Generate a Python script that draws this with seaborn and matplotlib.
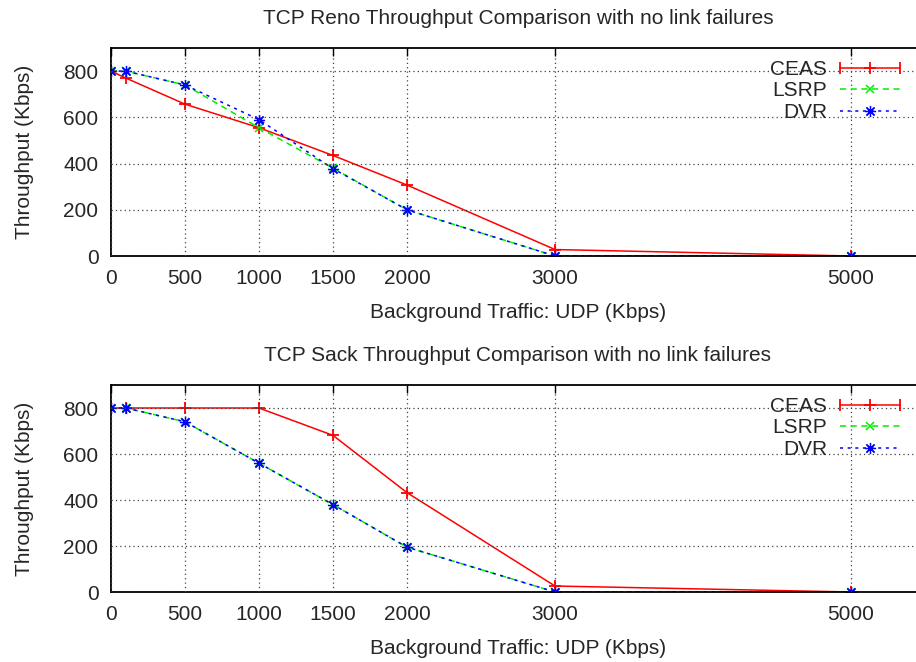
import matplotlib
matplotlib.use("Agg")
import matplotlib.pyplot as plt
from matplotlib.lines import Line2D
from matplotlib.legend_handler import HandlerLine2D
import seaborn as sns
import pandas as pd

# ---- data ----
udp_kbps = [0, 100, 500, 1000, 1500, 2000, 3000, 5000]
x_ticks = [0, 500, 1000, 1500, 2000, 3000, 5000]
y_ticks = [0, 200, 400, 600, 800]

reno_ceas = [800, 770, 657, 555, 435, 307, 28, 0]
reno_lsrp = [800, 800, 740, 555, 380, 200, 0, 0]
reno_dvr = [800, 800, 740, 590, 378, 200, 0, 0]

sack_ceas = [800, 800, 800, 800, 681, 432, 26, 0]
sack_lsrp = [800, 800, 740, 560, 380, 195, 0, 0]
sack_dvr = [800, 800, 740, 560, 380, 195, 0, 0]

titles = ["TCP Reno Throughput Comparison with no link failures",
          "TCP Sack Throughput Comparison with no link failures"]
series_names = ["CEAS", "LSRP", "DVR"]
xlabel = "Background Traffic: UDP (Kbps)"
ylabel = "Throughput (Kbps)"

sns.set_theme(style="white")
plt.rcParams["font.family"] = ["Liberation Sans", "DejaVu Sans"]

W, H = 916, 662
fig = plt.figure(figsize=(W / 100, H / 100), dpi=100)

def fpos(left, top, right, bottom):
    return [left / W, 1 - bottom / H, (right - left) / W, (bottom - top) / H]

ax_top = fig.add_axes(fpos(111, 48, 925, 256))
ax_bot = fig.add_axes(fpos(111, 385, 925, 592))

styles = {
    "CEAS": dict(color="#ff0000", marker="+", ms=8, ls="-", mew=1.3),
    "LSRP": dict(color="#00ee00", marker="x", ms=6, ls=(0, (4, 3)), mew=1.1),
    "DVR": dict(color="#0000ff", marker=(8, 2, 0), ms=8, ls=(0, (2, 3)), mew=0.9),
}


class CapHandler(HandlerLine2D):
    """Legend sample with end caps (gnuplot-like key for CEAS)."""
    def create_artists(self, legend, orig_handle, xdescent, ydescent,
                       width, height, fontsize, trans):
        artists = super().create_artists(legend, orig_handle, xdescent, ydescent,
                                         width, height, fontsize, trans)
        y = height / 2 - ydescent
        caps = Line2D([-xdescent, -xdescent + width], [y, y], ls="none",
                      marker="|", ms=8, mew=1.3,
                      color=orig_handle.get_color(), transform=trans)
        return list(artists) + [caps]


panels = [
    (ax_top, titles[0], [reno_ceas, reno_lsrp, reno_dvr]),
    (ax_bot, titles[1], [sack_ceas, sack_lsrp, sack_dvr]),
]

for ax, title, data in panels:
    for name, vals in zip(series_names, data):
        df = pd.DataFrame({"x": udp_kbps, "y": vals})
        st = styles[name]
        sns.lineplot(data=df, x="x", y="y", ax=ax, color=st["color"],
                     marker=st["marker"], markersize=st["ms"],
                     markeredgewidth=st["mew"], markeredgecolor=st["color"],
                     linestyle=st["ls"], linewidth=1.1, label=name,
                     estimator=None, sort=False)
    ax.set_xlim(0, 5500)
    ax.set_ylim(0, 900)
    ax.set_xticks(x_ticks)
    ax.set_yticks(y_ticks)
    ax.grid(True, linestyle=(0, (1, 2.5)), color="0.25", linewidth=0.9)
    ax.tick_params(direction="in", top=True, right=True, length=6,
                   width=1, labelsize=15, color="black")
    ax.tick_params(axis="x", pad=9)
    ax.tick_params(axis="y", pad=9)
    for s in ax.spines.values():
        s.set_color("black")
        s.set_linewidth(1.3)
    ax.set_title(title, fontsize=15, pad=17)
    ax.set_xlabel(xlabel, fontsize=15, labelpad=11)
    ax.set_ylabel(ylabel, fontsize=15, labelpad=21)
    ax.set_axisbelow(False)
    handles, labels = ax.get_legend_handles_labels()
    leg = ax.legend(handles, labels, loc="upper right", markerfirst=False,
                    frameon=False, fontsize=15, handlelength=2.9,
                    handletextpad=0.6, labelspacing=0.12, borderpad=0,
                    borderaxespad=0, numpoints=1,
                    handler_map={handles[0]: CapHandler()})
    top_px = (1 - ax.get_position().y1) * H
    leg.set_bbox_to_anchor((900 / W, 1 - (top_px + 12) / H), transform=fig.transFigure)

fig.savefig("out.png", dpi=100)
